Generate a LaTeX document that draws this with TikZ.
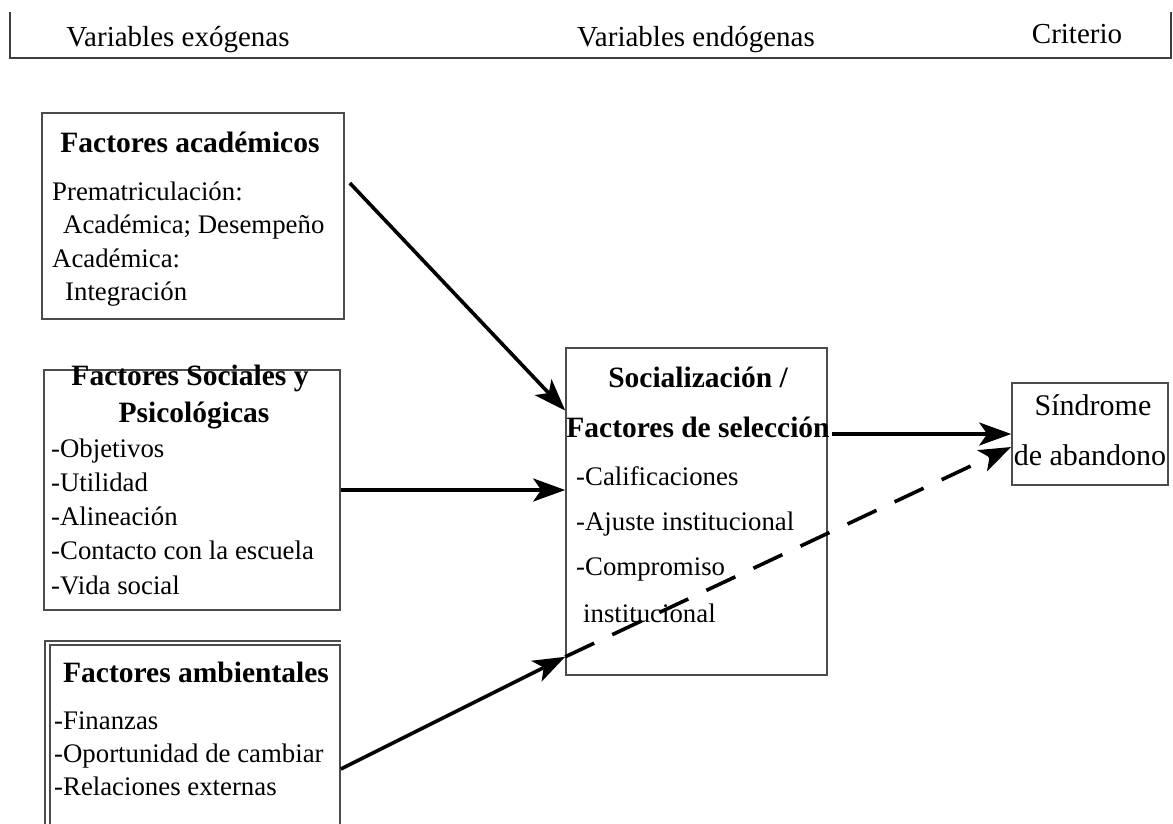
\documentclass[tikz,border=0pt]{standalone}
\usepackage{fontspec}
\setmainfont{Liberation Serif}
\usetikzlibrary{arrows.meta}

\tikzset{
  caja/.style={draw=black!70, line width=1.6pt, inner sep=0pt},
  cabecera/.style={font=\fontsize{29}{33}\selectfont, inner sep=0pt, anchor=base},
  titulo/.style={font=\fontsize{29.5}{33}\selectfont\bfseries, inner sep=0pt, anchor=base},
  texto/.style={font=\fontsize{26.8}{33}\selectfont, inner sep=0pt, anchor=base west},
  flecha/.style={line width=3.6pt, -{Stealth[length=32pt,width=23pt,inset=8pt]}},
}

\begin{document}
\begin{tikzpicture}[x=1pt, y=-1pt]
    \clip (0,0) rectangle (1173,823);

    % Encabezado
    \draw[line width=2.4pt, black!75] (10,12) -- (10,58) -- (1171,58) -- (1171,12);
    \node[cabecera] (exo) at (178,46) {Variables exógenas};
    \node[cabecera] (endo) at (696,46) {Variables endógenas};
    \node[cabecera] (crit) at (1077,43) {Criterio};

    % Cajas
    \node[caja, minimum width=302pt, minimum height=206pt] (acad) at (193,216) {};
    \node[caja, minimum width=296pt, minimum height=240pt] (socs) at (192,490) {};
    \node[caja, minimum width=290pt, minimum height=248pt] (amb) at (195,769) {};
    \draw[draw=black!70, line width=1.6pt] ([xshift=-4pt]amb.south west) |- ([yshift=3pt]amb.north east);
    \node[caja, minimum width=261pt, minimum height=327pt] (sel) at (696.5,511.5) {};
    \node[caja, minimum width=156pt, minimum height=102pt] (sind) at (1090,434) {};

    % Factores academicos
    \node[titulo] (acadT) at (190,152) {Factores académicos};
    \node[texto] (acad1) at (52,200) {Prematriculación:};
    \node[texto] (acad2) at (63,233) {Académica; Desempeño};
    \node[texto] (acad3) at (52,267) {Académica:};
    \node[texto] (acad4) at (65,300) {Integración};

    % Factores sociales
    \node[titulo] (socsT1) at (190,385) {Factores Sociales y};
    \node[titulo] (socsT2) at (194,422) {Psicológicas};
    \foreach \t [count=\i] in {-Objetivos, -Utilidad, -Alineación, -Contacto con la escuela, -Vida social}
        \node[texto] (socs\i) at (51, {423+34.2*\i}) {\t};

    % Factores ambientales
    \node[titulo] (ambT) at (196,682) {Factores ambientales};
    \foreach \t [count=\i] in {-Finanzas, -Oportunidad de cambiar, -Relaciones externas}
        \node[texto] (amb\i) at (54, {697+32.7*\i}) {\t};

    % Socializacion
    \node[titulo] (selT1) at (698,387) {Socialización /};
    \node[titulo] (selT2) at (698,437) {Factores de selección};
    \foreach \t [count=\i] in {-Calificaciones, -Ajuste institucional, -Compromiso}
        \node[texto] (sel\i) at (576, {440+45*\i}) {\t};
    \node[texto] (sel4) at (583,622) {institucional};

    % Criterio
    \node[texto, anchor=base, font=\fontsize{30}{33}\selectfont] (sind1) at (1093,415) {Síndrome};
    \node[texto, anchor=base, font=\fontsize{30}{33}\selectfont] (sind2) at (1090,465) {de abandono};

    % Flechas
    \draw[flecha] ([xshift=5pt, yshift=33pt]acad.east) -- ([yshift=101pt]sel.west);
    \draw[flecha] (socs.east) -- (socs.east -| sel.west);
    \draw[flecha] (amb.east) -- ([yshift=19pt]sel.south west) coordinate (cruce);
    \draw[flecha, dash pattern=on 32pt off 20pt] (cruce) -- ([yshift=-13pt]sind.west);
    \draw[flecha] ([xshift=4pt]sind.west -| sel.east) -- (sind.west);
\end{tikzpicture}
\end{document}
